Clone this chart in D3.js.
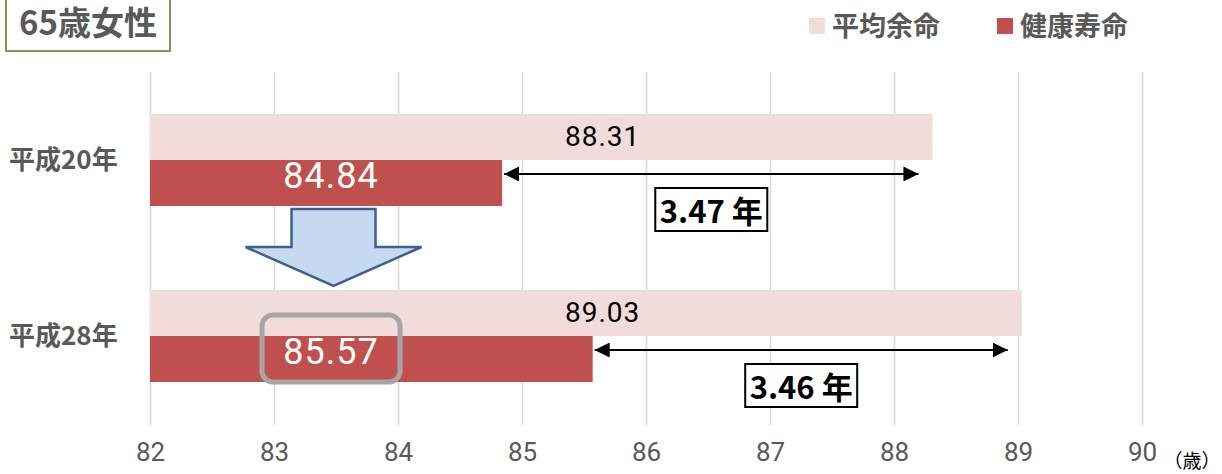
<!DOCTYPE html>
<html>
<head>
<meta charset="utf-8">
<script src="https://cdn.jsdelivr.net/npm/d3@7"></script>
<style>
  body { margin: 0; background: #fff; }
  text { font-family: "Noto Sans CJK JP", "Noto Sans", sans-serif; }
  .tick-label { font-family: Roboto, sans-serif; font-size: 26px; fill: #595959; }
  .cat-label { font-size: 26px; font-weight: bold; fill: #595959; }
  .legend-label { font-size: 27px; font-weight: bold; fill: #595959; }
  .value-life { font-family: Roboto, sans-serif; font-size: 28px; fill: #000; letter-spacing: 1px; }
  .value-health { font-family: Roboto, sans-serif; font-size: 36px; fill: #fff; letter-spacing: 1px; }
  .diff-label { font-size: 31px; font-weight: bold; fill: #000; }
</style>
</head>
<body>
<div id="chart"></div>
<script>
const categories = ["平成20年", "平成28年"];
const series = ["平均余命", "健康寿命"];
const lifeExpectancy = [88.31, 89.03];
const healthyLife = [84.84, 85.57];
const xTicks = [82, 83, 84, 85, 86, 87, 88, 89, 90];

function drawChart() {
    const width = 1222;
    const height = 474;

    const svg = d3.select("#chart")
        .append("svg")
        .attr("width", width)
        .attr("height", height);

    const x = d3.scaleLinear()
        .domain([82, 90])
        .range([150, 1142]);

    const y = d3.scaleBand()
        .domain(categories)
        .range([72, 424])
        .paddingInner(0.4773)
        .paddingOuter(0.2386);

    const ySub = d3.scaleBand()
        .domain(series)
        .range([0, y.bandwidth()]);

    const color = d3.scaleOrdinal()
        .domain(series)
        .range(["#f2dcdb", "#c0504d"]);

    // vertical gridlines
    const grid = svg.append("g")
        .attr("transform", "translate(0,425)")
        .call(d3.axisBottom(x).tickValues(xTicks).tickSize(-353).tickFormat(""));
    grid.select(".domain").remove();
    grid.selectAll("line").attr("stroke", "#d9d9d9").attr("stroke-width", 1.5);

    // tick labels
    const axis = svg.append("g")
        .attr("transform", "translate(0,443)")
        .call(d3.axisBottom(x).tickValues(xTicks).tickSize(0).tickPadding(0));
    axis.select(".domain").remove();
    axis.selectAll("text")
        .attr("class", "tick-label")
        .attr("fill", null);

    svg.append("text")
        .attr("x", 1192)
        .attr("y", 459)
        .attr("text-anchor", "middle")
        .attr("dominant-baseline", "central")
        .attr("font-size", 19)
        .attr("fill", "#000")
        .text("（歳）");

    const rows = categories.map((c, i) => ({
        cat: c,
        life: lifeExpectancy[i],
        health: healthyLife[i],
        values: [
            { key: series[0], value: lifeExpectancy[i] },
            { key: series[1], value: healthyLife[i] }
        ]
    }));

    const groups = svg.selectAll(".cat")
        .data(rows)
        .enter().append("g")
        .attr("class", "cat")
        .attr("transform", d => `translate(0,${y(d.cat)})`);

    groups.selectAll("rect.bar")
        .data(d => d.values)
        .enter().append("rect")
        .attr("class", "bar")
        .attr("x", x(82))
        .attr("y", d => ySub(d.key))
        .attr("width", d => x(d.value) - x(82))
        .attr("height", ySub.bandwidth())
        .attr("fill", d => color(d.key));

    // category labels
    groups.append("text")
        .attr("class", "cat-label")
        .attr("x", 9)
        .attr("y", y.bandwidth() / 2 - 2)
        .attr("dominant-baseline", "central")
        .text(d => d.cat);

    // value labels
    groups.append("text")
        .attr("class", "value-life")
        .attr("x", x(85.65))
        .attr("y", ySub(series[0]) + ySub.bandwidth() / 2)
        .attr("text-anchor", "middle")
        .attr("dominant-baseline", "central")
        .text(d => d.life.toFixed(2));

    groups.append("text")
        .attr("class", "value-health")
        .attr("x", x(83.46))
        .attr("y", ySub(series[1]) + ySub.bandwidth() / 2 - 7)
        .attr("text-anchor", "middle")
        .attr("dominant-baseline", "central")
        .text(d => d.health.toFixed(2));

    // arrow markers
    const defs = svg.append("defs");
    ["start", "end"].forEach(k => {
        defs.append("marker")
            .attr("id", "arrow-" + k)
            .attr("viewBox", "0 0 10 10")
            .attr("refX", k === "end" ? 10 : 0)
            .attr("refY", 5)
            .attr("markerWidth", 15)
            .attr("markerHeight", 15)
            .attr("markerUnits", "userSpaceOnUse")
            .attr("orient", "auto")
            .append("path")
            .attr("d", k === "end" ? "M0,0L10,5L0,10Z" : "M10,0L0,5L10,10Z")
            .attr("fill", "#000");
    });

    const redTop = ySub(series[1]);

    groups.append("line")
        .attr("x1", d => x(d.health) + 2)
        .attr("x2", d => x(d.life) - 14)
        .attr("y1", redTop + 14)
        .attr("y2", redTop + 14)
        .attr("stroke", "#000")
        .attr("stroke-width", 2)
        .attr("marker-start", "url(#arrow-start)")
        .attr("marker-end", "url(#arrow-end)");

    const diff = groups.append("g")
        .attr("transform", d => {
            const cx = (x(d.health) + x(d.life) - 12) / 2;
            return `translate(${cx},${redTop + 49.5})`;
        });

    diff.append("rect")
        .attr("x", -56)
        .attr("y", -21.5)
        .attr("width", 112)
        .attr("height", 43)
        .attr("fill", "#fff")
        .attr("stroke", "#000")
        .attr("stroke-width", 2);

    diff.append("text")
        .attr("class", "diff-label")
        .attr("text-anchor", "middle")
        .attr("dominant-baseline", "central")
        .text(d => (d.life - d.health).toFixed(2) + " 年");

    // highlight around the latest healthy-life value
    const last = rows[rows.length - 1];
    svg.append("rect")
        .attr("x", x(83.46) - 69)
        .attr("y", y(last.cat) + ySub(series[1]) - 21)
        .attr("width", 138)
        .attr("height", 67)
        .attr("rx", 11)
        .attr("fill", "none")
        .attr("stroke", "#a6a6a6")
        .attr("stroke-width", 5);

    // block arrow between the two periods
    const ax = x(83.48);
    const aTop = y(categories[0]) + y.bandwidth() + 3;
    const blockArrow = [
        [ax - 42, aTop], [ax + 42, aTop], [ax + 42, aTop + 38],
        [ax + 88, aTop + 38], [ax, aTop + 77], [ax - 88, aTop + 38],
        [ax - 42, aTop + 38]
    ];
    svg.append("path")
        .attr("d", d3.line()(blockArrow) + "Z")
        .attr("fill", "#c6d9f1")
        .attr("stroke", "#3b6190")
        .attr("stroke-width", 2.5);

    // title box
    svg.append("rect")
        .attr("x", 6)
        .attr("y", -4)
        .attr("width", 164)
        .attr("height", 55)
        .attr("fill", "#fff")
        .attr("stroke", "#948a54")
        .attr("stroke-width", 2);

    svg.append("text")
        .attr("x", 88)
        .attr("y", 21)
        .attr("text-anchor", "middle")
        .attr("dominant-baseline", "central")
        .attr("font-size", 33)
        .attr("font-weight", "bold")
        .attr("fill", "#595959")
        .text("65歳女性");

    // legend
    const legendX = [809, 997];
    const legend = svg.selectAll(".legend-item")
        .data(series)
        .enter().append("g")
        .attr("class", "legend-item")
        .attr("transform", (d, i) => `translate(${legendX[i]},18)`);

    legend.append("rect")
        .attr("width", 16)
        .attr("height", 16)
        .attr("fill", d => color(d));

    legend.append("text")
        .attr("class", "legend-label")
        .attr("x", 23)
        .attr("y", 6)
        .attr("dominant-baseline", "central")
        .text(d => d);
}

drawChart();
</script>
</body>
</html>
